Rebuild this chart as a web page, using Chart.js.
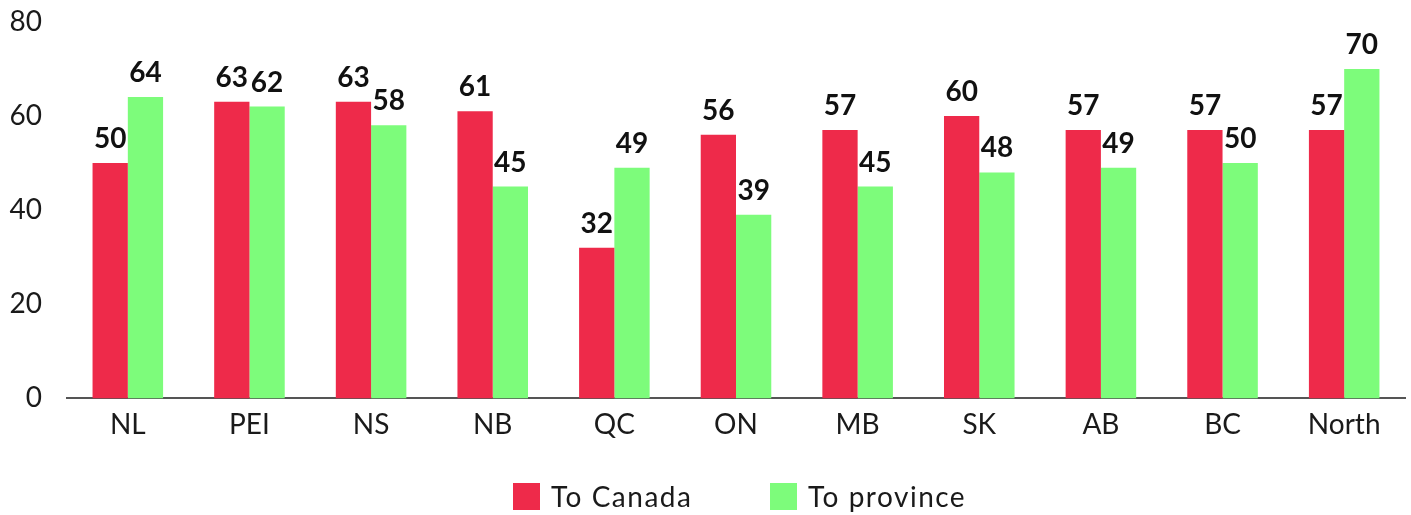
<!DOCTYPE html>
<html lang="en">

<head>
    <meta charset="UTF-8">
    <script src="https://cdn.jsdelivr.net/npm/chart.js"></script>
    <style>
        body {
            margin: 0;
            font-family: Lato, "Noto Sans", sans-serif;
            background: #fff;
        }

        .wrap {
            position: relative;
            width: 1411px;
            height: 515px;
        }

        .legend span {
            position: absolute;
            top: 481px;
            display: flex;
            align-items: center;
            font-size: 28px;
            line-height: 30px;
            letter-spacing: 1.5px;
            color: #1a1a1a;
            white-space: nowrap;
        }

        .legend i {
            display: inline-block;
            width: 27px;
            height: 27px;
            margin-right: 11px;
        }
    </style>
</head>

<body>
    <div class="wrap">
        <canvas id="chart" width="1411" height="515"></canvas>
        <div class="legend">
            <span style="left:513px"><i style="background:#ee2a4a"></i>To Canada</span>
            <span style="left:770px"><i style="background:#7dfc7b"></i>To province</span>
        </div>
    </div>

    <script>
        const regions = ['NL', 'PEI', 'NS', 'NB', 'QC', 'ON', 'MB', 'SK', 'AB', 'BC', 'North'];
        const toCanada = [50, 63, 63, 61, 32, 56, 57, 60, 57, 57, 57];
        const toProvince = [64, 62, 58, 45, 49, 39, 45, 48, 49, 50, 70];
        const yTicks = [0, 20, 40, 60, 80];

        const font = 'Lato, "Noto Sans", sans-serif';

        // values drawn above each bar
        const barLabels = {
            id: 'barLabels',
            afterDatasetsDraw(chart) {
                const ctx = chart.ctx;
                ctx.save();
                ctx.font = 'bold 28px ' + font;
                ctx.fillStyle = '#111';
                ctx.textAlign = 'center';
                ctx.textBaseline = 'alphabetic';
                chart.data.datasets.forEach((ds, i) => {
                    chart.getDatasetMeta(i).data.forEach((bar, j) => {
                        ctx.fillText(ds.data[j], bar.x, bar.y - 15);
                    });
                });
                ctx.restore();
            }
        };

        new Chart(document.getElementById('chart'), {
            type: 'bar',
            data: {
                labels: regions,
                datasets: [{
                    label: 'To Canada',
                    data: toCanada,
                    backgroundColor: '#ee2a4a'
                }, {
                    label: 'To province',
                    data: toProvince,
                    backgroundColor: '#7dfc7b'
                }]
            },
            options: {
                responsive: false,
                animation: false,
                layout: {
                    padding: { top: 0, left: 6, right: 6, bottom: 71 }
                },
                datasets: {
                    bar: {
                        barPercentage: 1,
                        categoryPercentage: 0.58
                    }
                },
                plugins: {
                    legend: { display: false },
                    tooltip: { enabled: false }
                },
                scales: {
                    x: {
                        grid: { display: false },
                        border: { display: true, color: '#555', width: 2 },
                        ticks: {
                            color: '#1a1a1a',
                            padding: 2,
                            font: { size: 28, family: font }
                        }
                    },
                    y: {
                        min: 0,
                        max: 80,
                        afterBuildTicks(axis) {
                            axis.ticks = yTicks.map(v => ({ value: v }));
                        },
                        afterFit(axis) {
                            axis.width = 61;
                        },
                        grid: { display: false, tickLength: 20 },
                        border: { display: false },
                        ticks: {
                            color: '#1a1a1a',
                            padding: 5,
                            font: { size: 28, family: font }
                        }
                    }
                }
            },
            plugins: [barLabels]
        });
    </script>
</body>

</html>
